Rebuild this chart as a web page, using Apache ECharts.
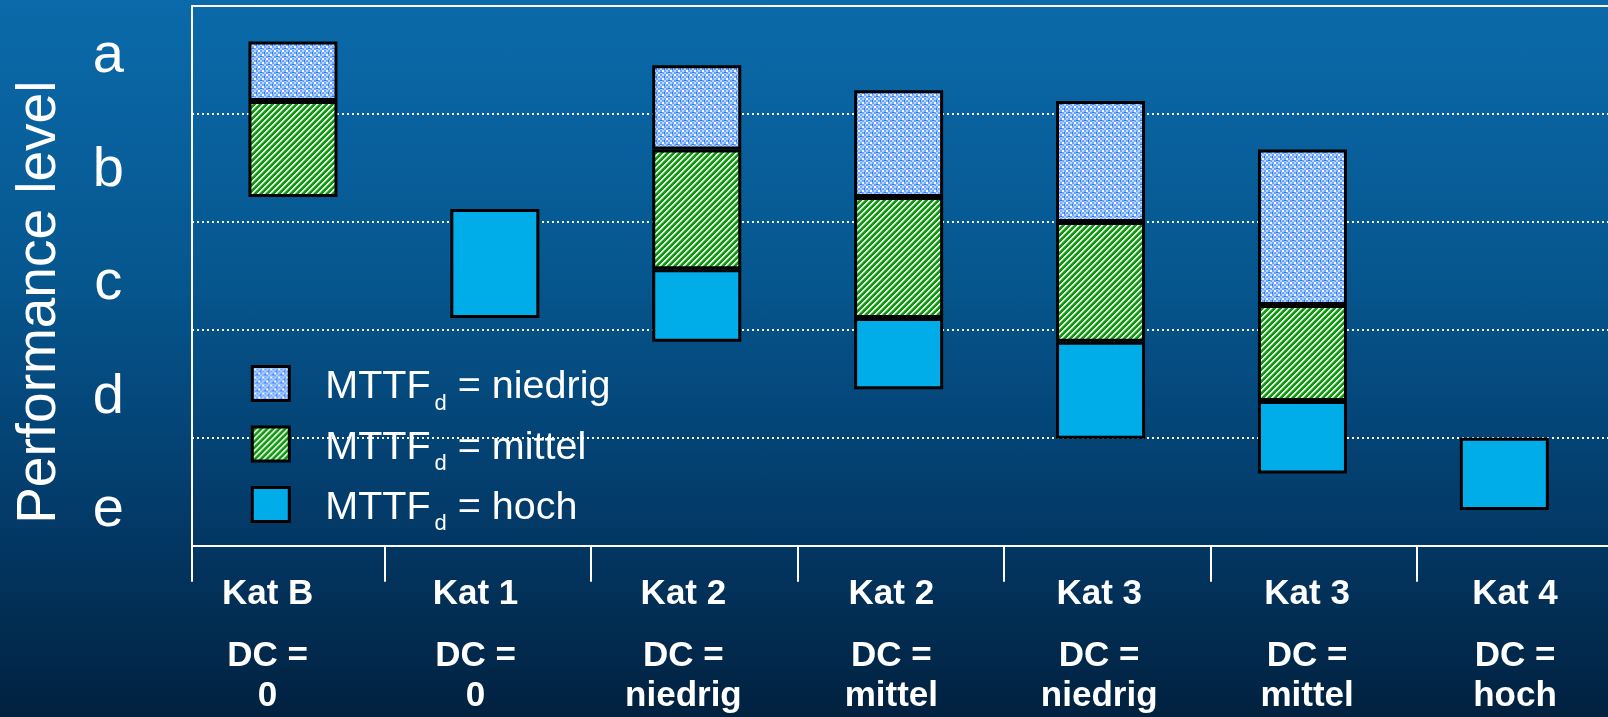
<!DOCTYPE html>
<html><head><meta charset="utf-8">
<script src="https://cdn.jsdelivr.net/npm/echarts@6/dist/echarts.min.js"></script>
<style>
html,body{margin:0;padding:0;width:1608px;height:717px;overflow:hidden;}
#chart{width:1608px;height:717px;background:linear-gradient(to bottom,#0b6aaa 0%,#06578f 38%,#033c6b 70%,#01213f 100%);}
</style></head><body><div id="chart"></div>
<script>
// ---- data ----
const categories = ['Kat B', 'Kat 1', 'Kat 2', 'Kat 2', 'Kat 3', 'Kat 3', 'Kat 4'];
const dcLabels = ['0', '0', 'niedrig', 'mittel', 'niedrig', 'mittel', 'hoch'];
const levels = ['e', 'd', 'c', 'b', 'a']; // bottom to top
const seriesNames = ['niedrig', 'mittel', 'hoch'];
// value scale: 0 = bottom of level e, 5 = top of level a
const hochBottom    = [null, 2.11, 1.89, 1.45, 0.99, 0.67, 0.33];
const hochTop       = [null, 3.12, 2.56, 2.11, 1.89, 1.34, 1.00];
const mittelBottom  = [3.23, null, 2.56, 2.11, 1.89, 1.34, null];
const mittelTop     = [4.12, null, 3.67, 3.23, 3.00, 2.23, null];
const niedrigBottom = [4.12, null, 3.67, 3.23, 3.00, 2.23, null];
const niedrigTop    = [4.67, null, 4.45, 4.22, 4.12, 3.67, null];

function span(top, bottom) {
  return top.map((t, i) => (t == null || bottom[i] == null) ? null : +(t - bottom[i]).toFixed(3));
}
const baseVals = categories.map((_, i) =>
  Math.min(...[hochBottom[i], mittelBottom[i], niedrigBottom[i]].filter(v => v != null)));

// ---- fill patterns ----
function niedrigPattern() {
  const c = document.createElement('canvas'); c.width = 8; c.height = 8;
  const g = c.getContext('2d');
  g.fillStyle = '#6ea8ff'; g.fillRect(0, 0, 8, 8);
  for (let by = 0; by < 4; by++) for (let bx = 0; bx < 4; bx++) {
    if ((bx + by) % 2 === 0) { g.fillStyle = '#b8d5ff'; g.fillRect(bx * 2, by * 2, 2, 2); }
  }
  g.fillStyle = '#ffffff'; g.fillRect(2, 2, 2, 2); g.fillRect(6, 6, 2, 2);
  g.fillStyle = '#2a72f5'; g.fillRect(0, 4, 1, 2); g.fillRect(4, 0, 2, 1);
  return c;
}
function mittelPattern() {
  const c = document.createElement('canvas'); c.width = 6; c.height = 6;
  const g = c.getContext('2d');
  for (let y = 0; y < 6; y++) for (let x = 0; x < 6; x++) {
    const k = (x + y) % 6;
    g.fillStyle = (k === 0 || k === 1) ? '#e4fbe4' : (k === 2 ? '#6cc46c' : '#129612');
    g.fillRect(x, y, 1, 1);
  }
  return c;
}

const white = '#ffffff';
const FONT = '"Liberation Sans", Arial, Helvetica, sans-serif';
const chart = echarts.init(document.getElementById('chart'), null, { renderer: 'canvas' });

const barCommon = { type: 'bar', stack: 'pl', xAxisIndex: 0, yAxisIndex: 0, barWidth: 89 };
const border = { borderColor: '#000000', borderWidth: 3 };

const option = {
  backgroundColor: 'transparent',
  animation: false,
  textStyle: { fontFamily: FONT },
  grid: [
    { left: 192, top: 6, width: 1615.2, height: 539.7, outerBoundsMode: 'none', containLabel: false },
    { left: 178.1, top: 6, width: 1445.5, height: 539.7, outerBoundsMode: 'none', containLabel: false },
    { left: 163.65, top: 6, width: 1455.3, height: 539.7, outerBoundsMode: 'none', containLabel: false },
    { left: 130, top: 0, width: 10, height: 567.5, outerBoundsMode: 'none', containLabel: false }
  ],
  xAxis: [
    { gridIndex: 0, type: 'category', data: categories, max: 7, position: 'bottom',
      axisLine: { show: true, onZero: false, lineStyle: { color: white, width: 2 } },
      axisTick: { show: true, interval: (i) => i === 0, length: 36, lineStyle: { color: white, width: 2 } },
      axisLabel: { show: false }, splitLine: { show: false } },
    { gridIndex: 0, type: 'category', data: categories, max: 7, position: 'top',
      axisLine: { show: true, onZero: false, lineStyle: { color: white, width: 2 } },
      axisTick: { show: false }, axisLabel: { show: false }, splitLine: { show: false } },
    { gridIndex: 1, type: 'category', data: categories, position: 'bottom',
      axisLine: { show: false, onZero: false },
      axisTick: { show: true, interval: (i) => i >= 1, length: 36, lineStyle: { color: white, width: 2 } },
      axisLabel: { show: false }, splitLine: { show: false } },
    { gridIndex: 2, type: 'category', data: categories, position: 'bottom',
      axisLine: { show: false, onZero: false }, axisTick: { show: false }, splitLine: { show: false },
      axisLabel: {
        show: true, interval: 0, margin: 6.8, hideOverlap: false,
        formatter: (v, i) => `{k|${v}}\n{d|DC =}\n{d|${dcLabels[i]}}`,
        rich: {
          k: { color: white, fontFamily: FONT, fontSize: 35, fontWeight: 'bold', lineHeight: 83.4, align: 'center' },
          d: { color: white, fontFamily: FONT, fontSize: 35, fontWeight: 'bold', lineHeight: 40, align: 'center' }
        }
      } },
    { gridIndex: 3, type: 'value', show: false }
  ],
  yAxis: [
    { gridIndex: 0, type: 'value', min: 0, max: 5, interval: 1,
      axisLine: { show: true, onZero: false, lineStyle: { color: white, width: 2 } },
      axisTick: { show: false }, axisLabel: { show: false },
      splitLine: { show: true, showMinLine: false, showMaxLine: false,
        lineStyle: { color: white, width: 2, type: [2, 3] } } },
    { gridIndex: 1, type: 'value', show: false },
    { gridIndex: 2, type: 'value', show: false },
    { gridIndex: 3, type: 'category', data: levels,
      axisLine: { show: false, onZero: false }, axisTick: { show: false }, splitLine: { show: false },
      axisLabel: { show: true, interval: 0, align: 'center', margin: 21.7, color: white,
        fontFamily: FONT, fontSize: 56 } }
  ],
  legend: {
    data: seriesNames, orient: 'vertical', left: 250.8, top: 354.5, padding: 0,
    itemGap: 0.5, itemWidth: 37, itemHeight: 34, icon: 'rect', selectedMode: false,
    itemStyle: { borderColor: '#000000', borderWidth: 3 },
    formatter: (n) => `{m|MTTF}{s|d}{t| = ${n}}`,
    textStyle: {
      color: white, fontFamily: FONT, fontSize: 39.5,
      rich: {
        m: { color: white, fontFamily: FONT, fontSize: 39.5, height: 39.5, lineHeight: 58, verticalAlign: 'top', padding: [13.05, 0, 0, 31] },
        s: { color: white, fontFamily: FONT, fontSize: 22, height: 16, lineHeight: 58, verticalAlign: 'top', padding: [40.95, 0, 0, 4] },
        t: { color: white, fontFamily: FONT, fontSize: 39.5, height: 39.5, lineHeight: 58, verticalAlign: 'top', padding: [13.05, 0, 0, 0] }
      }
    }
  },
  graphic: [
    { type: 'text', x: 39.9, y: 302.2, rotation: Math.PI / 2, silent: true,
      style: { text: 'Performance level', fill: white, font: '55px "Liberation Sans", Arial, sans-serif',
        align: 'center', verticalAlign: 'middle', textAlign: 'center', textVerticalAlign: 'middle' } }
  ],
  series: [
    { name: 'base', ...barCommon, data: baseVals, silent: true,
      itemStyle: { color: 'rgba(0,0,0,0)', borderWidth: 0 }, emphasis: { disabled: true } },
    { name: 'hoch', ...barCommon, data: span(hochTop, hochBottom),
      itemStyle: { color: '#00ade9', ...border } },
    { name: 'mittel', ...barCommon, data: span(mittelTop, mittelBottom),
      itemStyle: { color: { image: mittelPattern(), repeat: 'repeat' }, ...border } },
    { name: 'niedrig', ...barCommon, data: span(niedrigTop, niedrigBottom),
      itemStyle: { color: { image: niedrigPattern(), repeat: 'repeat' }, ...border } }
  ]
};
chart.setOption(option);
</script></body></html>
